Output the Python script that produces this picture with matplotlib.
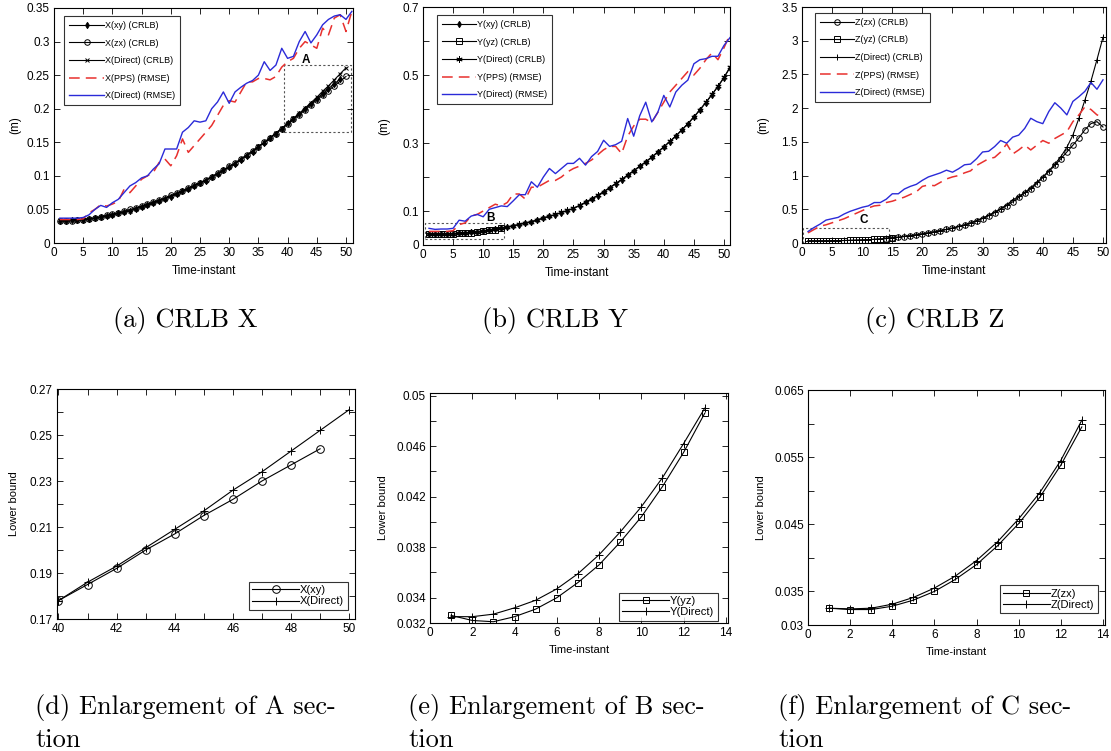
import matplotlib
matplotlib.use("Agg")
import matplotlib.pyplot as plt
from matplotlib.patches import Rectangle

plt.rcParams['font.family'] = ['Liberation Sans', 'DejaVu Sans']

# ---- (a) X ----
x_crlb_direct = [0.034, 0.034, 0.034, 0.035, 0.035, 0.036, 0.037, 0.039, 0.040, 0.042,
                 0.044, 0.046, 0.048, 0.051, 0.054, 0.057, 0.060, 0.063, 0.066, 0.070,
                 0.073, 0.077, 0.081, 0.085, 0.089, 0.094, 0.098, 0.103, 0.108, 0.113,
                 0.119, 0.125, 0.131, 0.137, 0.144, 0.150, 0.157, 0.164, 0.171, 0.178,
                 0.186, 0.193, 0.201, 0.209, 0.217, 0.226, 0.234, 0.243, 0.252, 0.261]
x_crlb_xy = [0.033, 0.033, 0.034, 0.034, 0.035, 0.036, 0.037, 0.038, 0.040, 0.042,
             0.044, 0.046, 0.048, 0.051, 0.054, 0.056, 0.059, 0.063, 0.066, 0.069,
             0.073, 0.077, 0.080, 0.085, 0.089, 0.093, 0.098, 0.103, 0.108, 0.113,
             0.118, 0.124, 0.130, 0.136, 0.143, 0.149, 0.156, 0.163, 0.170, 0.178,
             0.185, 0.192, 0.200, 0.207, 0.215, 0.222, 0.230, 0.237, 0.244]
x_crlb_zx = [0.033, 0.033, 0.033, 0.034, 0.035, 0.036, 0.037, 0.039, 0.041, 0.043,
             0.045, 0.047, 0.050, 0.052, 0.055, 0.058, 0.061, 0.064, 0.067, 0.071,
             0.074, 0.078, 0.082, 0.086, 0.090, 0.094, 0.099, 0.104, 0.109, 0.114,
             0.119, 0.125, 0.131, 0.137, 0.143, 0.150, 0.156, 0.163, 0.170, 0.177,
             0.184, 0.191, 0.198, 0.206, 0.213, 0.220, 0.227, 0.234, 0.241, 0.248]
x_rmse_pps = [0.035, 0.035, 0.035, 0.035, 0.036, 0.045, 0.050, 0.057, 0.055, 0.058,
              0.062, 0.080, 0.075, 0.085, 0.095, 0.100, 0.105, 0.120, 0.125, 0.115,
              0.130, 0.155, 0.135, 0.145, 0.155, 0.165, 0.175, 0.190, 0.205, 0.212,
              0.210, 0.225, 0.240, 0.240, 0.245, 0.245, 0.243, 0.248, 0.262, 0.270,
              0.275, 0.290, 0.300, 0.295, 0.290, 0.320, 0.310, 0.335, 0.340, 0.315, 0.345]
x_rmse_direct = [0.037, 0.037, 0.037, 0.037, 0.038, 0.042, 0.050, 0.056, 0.053, 0.060,
                 0.065, 0.075, 0.085, 0.090, 0.097, 0.100, 0.110, 0.118, 0.140, 0.140,
                 0.140, 0.165, 0.172, 0.182, 0.180, 0.182, 0.200, 0.210, 0.225, 0.208,
                 0.225, 0.232, 0.238, 0.242, 0.250, 0.270, 0.257, 0.265, 0.290, 0.275,
                 0.278, 0.300, 0.315, 0.298, 0.310, 0.325, 0.333, 0.338, 0.340, 0.333, 0.345]

# ---- (b) Y ----
y_crlb_direct = [0.0325, 0.0325, 0.0327, 0.0332, 0.0338, 0.0347, 0.0359, 0.0374, 0.0392, 0.0412,
                 0.0435, 0.0462, 0.0490, 0.053, 0.057, 0.061, 0.065, 0.069, 0.074, 0.080,
                 0.085, 0.090, 0.096, 0.102, 0.108, 0.117, 0.126, 0.136, 0.146, 0.157,
                 0.169, 0.181, 0.193, 0.206, 0.219, 0.232, 0.245, 0.259, 0.274, 0.289,
                 0.305, 0.321, 0.339, 0.357, 0.377, 0.398, 0.420, 0.443, 0.467, 0.493, 0.523]
y_crlb_xy = [0.0324, 0.0323, 0.0324, 0.0328, 0.0334, 0.0343, 0.0355, 0.0370, 0.0388, 0.0408,
             0.0431, 0.0458, 0.0488, 0.052, 0.056, 0.060, 0.064, 0.068, 0.073, 0.079,
             0.084, 0.089, 0.095, 0.101, 0.107, 0.116, 0.125, 0.135, 0.145, 0.156,
             0.168, 0.180, 0.192, 0.205, 0.218, 0.231, 0.244, 0.258, 0.273, 0.288,
             0.304, 0.320, 0.338, 0.356, 0.376, 0.397, 0.419, 0.442, 0.466, 0.492, 0.522]
y_crlb_yz = [0.0326, 0.0322, 0.0321, 0.0325, 0.0331, 0.0340, 0.0352, 0.0366, 0.0384, 0.0404,
             0.0428, 0.0455, 0.0486]
y_rmse_pps = [0.040, 0.040, 0.040, 0.040, 0.042, 0.060, 0.065, 0.085, 0.090, 0.100,
              0.110, 0.120, 0.115, 0.125, 0.150, 0.150, 0.135, 0.170, 0.170, 0.180,
              0.190, 0.190, 0.200, 0.215, 0.225, 0.232, 0.240, 0.250, 0.265, 0.280,
              0.290, 0.290, 0.269, 0.320, 0.350, 0.370, 0.370, 0.360, 0.390, 0.420,
              0.450, 0.470, 0.490, 0.510, 0.500, 0.520, 0.545, 0.565, 0.545, 0.580, 0.620]
y_rmse_direct = [0.049, 0.046, 0.047, 0.047, 0.049, 0.073, 0.070, 0.085, 0.090, 0.083,
                 0.105, 0.110, 0.115, 0.113, 0.130, 0.148, 0.148, 0.186, 0.170, 0.200,
                 0.225, 0.210, 0.225, 0.240, 0.240, 0.255, 0.235, 0.260, 0.275, 0.308,
                 0.290, 0.295, 0.305, 0.372, 0.320, 0.380, 0.420, 0.362, 0.390, 0.440,
                 0.406, 0.450, 0.470, 0.485, 0.533, 0.545, 0.548, 0.555, 0.555, 0.587, 0.610]

# ---- (c) Z ----
z_crlb_direct = [0.0325, 0.0324, 0.0325, 0.0331, 0.0341, 0.0355, 0.0373, 0.0396, 0.0424, 0.0458,
                 0.0497, 0.0545, 0.0605, 0.068, 0.077, 0.087, 0.098, 0.110, 0.123, 0.137,
                 0.152, 0.168, 0.185, 0.203, 0.222, 0.245, 0.270, 0.300, 0.333, 0.370,
                 0.410, 0.460, 0.510, 0.565, 0.640, 0.690, 0.750, 0.820, 0.900, 0.980,
                 1.070, 1.170, 1.280, 1.420, 1.600, 1.850, 2.120, 2.400, 2.720, 3.050]
z_crlb_zx = [0.066, 0.075, 0.085, 0.096, 0.108, 0.121, 0.135, 0.150, 0.166, 0.183,
             0.201, 0.220, 0.242, 0.267, 0.295, 0.327, 0.363, 0.405, 0.450, 0.500,
             0.555, 0.610, 0.675, 0.740, 0.800, 0.880, 0.970, 1.060, 1.150, 1.250,
             1.350, 1.450, 1.560, 1.680, 1.770, 1.800, 1.720]
z_crlb_yz = [0.0325, 0.0323, 0.0323, 0.0328, 0.0337, 0.0350, 0.0368, 0.0390, 0.0418, 0.0451,
             0.0490, 0.0538, 0.0595, 0.066, 0.074]
z_rmse_pps = [0.15, 0.20, 0.25, 0.27, 0.30, 0.33, 0.36, 0.40, 0.44, 0.48,
              0.52, 0.55, 0.56, 0.60, 0.62, 0.65, 0.68, 0.72, 0.76, 0.84,
              0.86, 0.85, 0.90, 0.95, 0.98, 1.00, 1.04, 1.07, 1.15, 1.20,
              1.25, 1.27, 1.35, 1.47, 1.32, 1.38, 1.45, 1.38, 1.45, 1.52,
              1.48, 1.55, 1.60, 1.65, 1.80, 1.90, 2.02, 1.98, 1.90, 1.87]
z_rmse_direct = [0.17, 0.23, 0.28, 0.34, 0.36, 0.38, 0.43, 0.47, 0.50, 0.53,
                 0.55, 0.60, 0.60, 0.65, 0.73, 0.73, 0.80, 0.84, 0.87, 0.93,
                 0.98, 1.01, 1.04, 1.08, 1.05, 1.10, 1.16, 1.17, 1.25, 1.35,
                 1.36, 1.43, 1.52, 1.48, 1.57, 1.60, 1.70, 1.85, 1.80, 1.77,
                 1.95, 2.08, 2.00, 1.90, 2.10, 2.17, 2.25, 2.38, 2.28, 2.42]

captions = ['(a) CRLB X', '(b) CRLB Y', '(c) CRLB Z',
            '(d) Enlargement of A sec-\ntion', '(e) Enlargement of B sec-\ntion',
            '(f) Enlargement of C sec-\ntion']


def t(vals, start=1):
    return list(range(start, start + len(vals)))


def style(ax, fs=8.5):
    ax.tick_params(direction='in', top=True, right=True, length=4, width=0.6,
                   labelsize=fs, pad=3)
    for s in ax.spines.values():
        s.set_linewidth(0.8)


def blk(ax, x, y, m, label=None, ms=4.0, mew=0.7):
    ax.plot(x, y, color='black', lw=0.8, marker=m, ms=ms, mew=mew,
            mfc='none' if m in ('o', 's') else 'black', mec='black', label=label)


def frame(leg):
    leg.get_frame().set_edgecolor('black')
    leg.get_frame().set_linewidth(0.8)


fig = plt.figure(figsize=(11.11, 7.51), dpi=100)
W, H = 1111.0, 751.0


def add_ax(l, r, top, bot):
    return fig.add_axes([l / W, 1 - bot / H, (r - l) / W, (bot - top) / H])


leg_kw = dict(fontsize=6.5, handlelength=3.8, handletextpad=0.1, labelspacing=0.95,
              frameon=True, fancybox=False, borderaxespad=0, borderpad=0.55)
red = '#e8302e'
blue = '#2a2ad8'

# (a)
ax = add_ax(54, 353, 8, 243)
blk(ax, t(x_crlb_xy), x_crlb_xy, 'd', 'X(xy) (CRLB)', ms=3.2)
blk(ax, t(x_crlb_zx), x_crlb_zx, 'o', 'X(zx) (CRLB)')
blk(ax, t(x_crlb_direct), x_crlb_direct, 'x', 'X(Direct) (CRLB)', ms=3.5)
ax.plot(t(x_rmse_pps), x_rmse_pps, color=red, lw=1.1, ls=(0, (7, 4)), label='X(PPS) (RMSE)')
ax.plot(t(x_rmse_direct), x_rmse_direct, color=blue, lw=1.0, label='X(Direct) (RMSE)')
ax.add_patch(Rectangle((39.3, 0.165), 11.5, 0.1, fill=False, ls=(0, (2, 2)), lw=0.8, ec='#555555'))
ax.text(42.5, 0.268, 'A', fontsize=8.5, fontweight='bold')
ax.set_xlim(0, 51.2)
ax.set_ylim(0, 0.35)
ax.set_xticks(range(0, 51, 5))
ax.set_yticks([0, 0.05, 0.1, 0.15, 0.2, 0.25, 0.3, 0.35])
ax.set_yticklabels(['0', '0.05', '0.1', '0.15', '0.2', '0.25', '0.3', '0.35'])
ax.set_xlabel('Time-instant', fontsize=8.5, labelpad=4)
ax.set_ylabel('(m)', fontsize=8.5, labelpad=4)
style(ax)
frame(ax.legend(loc='upper left', bbox_to_anchor=(0.035, 0.966), **leg_kw))

# (b)
ax = add_ax(423, 730, 7, 245)
blk(ax, t(y_crlb_xy), y_crlb_xy, 'd', 'Y(xy) (CRLB)', ms=3.2)
blk(ax, t(y_crlb_yz), y_crlb_yz, 's', 'Y(yz) (CRLB)', ms=3.8)
blk(ax, t(y_crlb_direct), y_crlb_direct, (6, 2, 0), 'Y(Direct) (CRLB)', ms=4.5, mew=0.6)
ax.plot(t(y_rmse_pps), y_rmse_pps, color=red, lw=1.1, ls=(0, (7, 4)), label='Y(PPS) (RMSE)')
ax.plot(t(y_rmse_direct), y_rmse_direct, color=blue, lw=1.0, label='Y(Direct) (RMSE)')
ax.add_patch(Rectangle((0.3, 0.017), 13.2, 0.049, fill=False, ls=(0, (2, 2)), lw=0.8, ec='#555555'))
ax.text(10.5, 0.072, 'B', fontsize=8.5, fontweight='bold')
ax.set_xlim(0, 51)
ax.set_ylim(0, 0.7)
ax.set_xticks(range(0, 51, 5))
ax.set_yticks([0, 0.1, 0.2, 0.3, 0.4, 0.5, 0.6, 0.7])
ax.set_yticklabels(['0', '0.1', '', '0.3', '', '0.5', '', '0.7'])
ax.set_xlabel('Time-instant', fontsize=8.5, labelpad=4)
ax.set_ylabel('(m)', fontsize=8.5, labelpad=9)
style(ax)
frame(ax.legend(loc='upper left', bbox_to_anchor=(0.046, 0.966), **leg_kw))

# (c)
ax = add_ax(802, 1106, 7, 243)
blk(ax, t(z_crlb_zx, 14), z_crlb_zx, 'o', 'Z(zx) (CRLB)')
blk(ax, t(z_crlb_yz), z_crlb_yz, 's', 'Z(yz) (CRLB)', ms=3.8)
blk(ax, t(z_crlb_direct), z_crlb_direct, '+', 'Z(Direct) (CRLB)', ms=4.0)
ax.plot(t(z_rmse_pps), z_rmse_pps, color=red, lw=1.1, ls=(0, (7, 4)), label='Z(PPS) (RMSE)')
ax.plot(t(z_rmse_direct), z_rmse_direct, color=blue, lw=1.0, label='Z(Direct) (RMSE)')
ax.add_patch(Rectangle((0.2, 0.0), 14.2, 0.22, fill=False, ls=(0, (2, 2)), lw=0.8, ec='#555555'))
ax.text(9.5, 0.3, 'C', fontsize=8.5, fontweight='bold')
ax.set_xlim(0, 50.5)
ax.set_ylim(0, 3.5)
ax.set_xticks(range(0, 51, 5))
ax.set_yticks([0, 0.5, 1, 1.5, 2, 2.5, 3, 3.5])
ax.set_yticklabels(['0', '0.5', '1', '1.5', '2', '2.5', '3', '3.5'])
ax.set_xlabel('Time-instant', fontsize=8.5, labelpad=4)
ax.set_ylabel('(m)', fontsize=8.5, labelpad=9)
style(ax)
frame(ax.legend(loc='upper left', bbox_to_anchor=(0.043, 0.975), **leg_kw))

leg2_kw = dict(fontsize=8, handlelength=4.2, handletextpad=0.1, labelspacing=0.1,
               frameon=True, fancybox=False, borderaxespad=0, borderpad=0.3)

# (d)
ax = add_ax(57, 355, 389, 619)
blk(ax, t(x_crlb_xy[39:], 40), x_crlb_xy[39:], 'o', 'X(xy)', ms=5.5)
blk(ax, t(x_crlb_direct[39:], 40), x_crlb_direct[39:], '+', 'X(Direct)', ms=6)
ax.set_xlim(39.95, 50.2)
ax.set_ylim(0.17, 0.27)
ax.set_xticks(range(40, 51))
ax.set_xticklabels([str(v) if v % 2 == 0 else '' for v in range(40, 51)])
ax.set_yticks([0.17 + 0.01 * i for i in range(11)])
ax.set_yticklabels(['0.17', '', '0.19', '', '0.21', '', '0.23', '', '0.25', '', '0.27'])
ax.set_ylabel('Lower bound', fontsize=8, labelpad=8)
style(ax)
frame(ax.legend(loc='lower right', bbox_to_anchor=(0.975, 0.04), **leg2_kw))

# (e)
ax = add_ax(430, 728, 393, 623)
blk(ax, t(y_crlb_yz), y_crlb_yz, 's', 'Y(yz)', ms=5)
blk(ax, t(y_crlb_direct[:13]), y_crlb_direct[:13], '+', 'Y(Direct)', ms=6)
ax.set_xlim(0, 14.1)
ax.set_ylim(0.032, 0.0502)
ax.set_xticks(range(0, 15, 2))
ax.set_yticks([0.032 + 0.002 * i for i in range(10)])
ax.set_yticklabels(['0.032', '0.034', '', '0.038', '', '0.042', '', '0.046', '', '0.05'])
ax.set_xlabel('Time-instant', fontsize=8, labelpad=4)
ax.set_ylabel('Lower bound', fontsize=8, labelpad=6)
style(ax)
frame(ax.legend(loc='lower right', bbox_to_anchor=(0.965, 0.01), **leg2_kw))

# (f)
ax = add_ax(808, 1105, 390, 625)
blk(ax, t(z_crlb_yz[:13]), z_crlb_yz[:13], 's', 'Z(zx)', ms=5)
blk(ax, t(z_crlb_direct[:13]), z_crlb_direct[:13], '+', 'Z(Direct)', ms=6)
ax.set_xlim(0, 14.1)
ax.set_ylim(0.03, 0.065)
ax.set_xticks(range(0, 15, 2))
ax.set_yticks([0.03 + 0.005 * i for i in range(8)])
ax.set_yticklabels(['0.03', '0.035', '', '0.045', '', '0.055', '', '0.065'])
ax.set_xlabel('Time-instant', fontsize=8, labelpad=4)
ax.set_ylabel('Lower bound', fontsize=8, labelpad=6)
style(ax)
frame(ax.legend(loc='lower right', bbox_to_anchor=(0.975, 0.05), **leg2_kw))

# captions
for cx, cap in zip([185, 555, 935], captions[:3]):
    fig.text(cx / W, 1 - 320 / H, cap, family='cmr10', fontsize=19,
             ha='center', va='center')
for cx, cap in zip([35, 408, 778], captions[3:]):
    fig.text(cx / W, 1 - 723 / H, cap, family='cmr10', fontsize=19,
             ha='left', va='center', linespacing=1.35)

fig.savefig('out.png', dpi=100)
